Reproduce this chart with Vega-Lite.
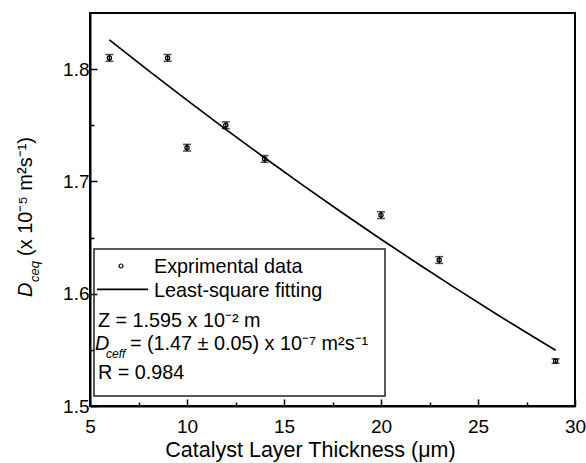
{
  "$schema": "https://vega.github.io/schema/vega-lite/v6.json",
  "width": 485,
  "height": 393,
  "autosize": {"type": "none"},
  "padding": {"left": 90, "top": 13, "right": 11, "bottom": 57},
  "background": "#ffffff",
  "config": {
    "view": {"stroke": "#000000", "strokeWidth": 2},
    "font": "Liberation Sans",
    "text": {"font": "Liberation Sans", "color": "#000000"}
  },
  "datasets": {
    "points": [
      {"thickness": 6, "D": 1.81, "err": 0.003},
      {"thickness": 9, "D": 1.81, "err": 0.003},
      {"thickness": 10, "D": 1.73, "err": 0.003},
      {"thickness": 12, "D": 1.75, "err": 0.003},
      {"thickness": 14, "D": 1.72, "err": 0.003},
      {"thickness": 20, "D": 1.67, "err": 0.003},
      {"thickness": 23, "D": 1.63, "err": 0.003},
      {"thickness": 29, "D": 1.54, "err": 0.002}
    ],
    "fit": [
      {"thickness": 6, "D": 1.826},
      {"thickness": 8, "D": 1.7989},
      {"thickness": 10, "D": 1.7724},
      {"thickness": 12, "D": 1.7464},
      {"thickness": 14, "D": 1.7211},
      {"thickness": 16, "D": 1.6963},
      {"thickness": 18, "D": 1.6721},
      {"thickness": 20, "D": 1.6485},
      {"thickness": 22, "D": 1.6256},
      {"thickness": 24, "D": 1.6032},
      {"thickness": 26, "D": 1.5813},
      {"thickness": 28, "D": 1.5601},
      {"thickness": 29, "D": 1.5497}
    ]
  },
  "layer": [
    {
      "data": {"name": "fit"},
      "mark": {"type": "line", "color": "#000000", "strokeWidth": 1.7},
      "encoding": {
        "x": {
          "field": "thickness", "type": "quantitative",
          "scale": {"domain": [5, 30], "nice": false, "zero": false},
          "axis": {
            "values": [5, 7.5, 10, 12.5, 15, 17.5, 20, 22.5, 25, 27.5, 30],
            "labelExpr": "datum.value % 5 == 0 ? datum.label : ''",
            "tickSize": {"condition": {"test": "datum.value % 5 == 0", "value": -7}, "value": -4},
            "tickWidth": 1.5,
            "tickColor": "#000000",
            "domainColor": "#000000",
            "domainWidth": 2,
            "grid": false,
            "labelFont": "Liberation Sans",
            "labelFontSize": 19,
            "labelColor": "#000000",
            "labelPadding": 18,
            "labelFlush": false,
            "labelOverlap": false,
            "title": "Catalyst Layer Thickness (μm)",
            "titleFont": "Liberation Sans",
            "titleFontSize": 21.5,
            "titleFontWeight": "normal",
            "titleColor": "#000000",
            "titleX": 220,
            "titleY": 50,
            "titleAlign": "center",
            "titleBaseline": "alphabetic"
          }
        },
        "y": {
          "field": "D", "type": "quantitative",
          "scale": {"domain": [1.5, 1.85], "nice": false, "zero": false},
          "axis": {
            "values": [1.5, 1.55, 1.6, 1.65, 1.7, 1.75, 1.8],
            "labelExpr": "abs(datum.value * 10 - round(datum.value * 10)) < 0.001 ? format(datum.value, '.1f') : ''",
            "tickSize": {"condition": {"test": "abs(datum.value * 10 - round(datum.value * 10)) < 0.001", "value": -7}, "value": -4},
            "tickWidth": 1.5,
            "tickColor": "#000000",
            "domainColor": "#000000",
            "domainWidth": 2,
            "grid": false,
            "labelFont": "Liberation Sans",
            "labelFontSize": 19,
            "labelColor": "#000000",
            "labelPadding": 8,
            "labelFlush": false,
            "labelOverlap": false,
            "title": null
          }
        }
      }
    },
    {
      "data": {"name": "points"},
      "mark": {"type": "errorbar", "ticks": {"size": 8, "thickness": 1.5, "color": "#000000"}, "rule": {"strokeWidth": 1.5, "color": "#000000"}},
      "encoding": {
        "x": {"field": "thickness", "type": "quantitative"},
        "y": {"field": "D", "type": "quantitative"},
        "yError": {"field": "err"}
      }
    },
    {
      "data": {"name": "points"},
      "mark": {"type": "point", "shape": "circle", "filled": false, "stroke": "#000000", "strokeWidth": 1.2, "size": 18, "opacity": 1},
      "encoding": {
        "x": {"field": "thickness", "type": "quantitative"},
        "y": {"field": "D", "type": "quantitative"}
      }
    },
    {
      "data": {"values": [{}]},
      "mark": {"type": "rect", "fill": "transparent", "stroke": "#222222", "strokeWidth": 1.5},
      "encoding": {
        "x": {"datum": 5.206}, "x2": {"datum": 20.206},
        "y": {"datum": 1.6398}, "y2": {"datum": 1.5089}
      }
    },
    {
      "data": {"values": [{}]},
      "mark": {"type": "point", "shape": "circle", "filled": false, "stroke": "#000000", "strokeWidth": 1.2, "size": 16, "opacity": 1},
      "encoding": {"x": {"datum": 6.598}, "y": {"datum": 1.6247}}
    },
    {
      "data": {"values": [{}]},
      "mark": {"type": "rule", "color": "#000000", "strokeWidth": 1.7},
      "encoding": {"x": {"datum": 5.361}, "x2": {"datum": 7.99}, "y": {"datum": 1.6039}}
    },
    {
      "data": {"values": [{}]},
      "mark": {"type": "text", "text": "Exprimental data", "align": "left", "baseline": "alphabetic", "fontSize": 19.8},
      "encoding": {"x": {"datum": 8.299}, "y": {"datum": 1.6185}}
    },
    {
      "data": {"values": [{}]},
      "mark": {"type": "text", "text": "Least-square fitting", "align": "left", "baseline": "alphabetic", "fontSize": 19.8},
      "encoding": {"x": {"datum": 8.299}, "y": {"datum": 1.5971}}
    },
    {
      "data": {"values": [{}]},
      "mark": {"type": "text", "text": "Z = 1.595 x 10⁻² m", "align": "left", "baseline": "alphabetic", "fontSize": 19.8},
      "encoding": {"x": {"datum": 5.412}, "y": {"datum": 1.5704}}
    },
    {
      "data": {"values": [{}]},
      "mark": {"type": "text", "text": "D", "align": "left", "baseline": "alphabetic", "fontSize": 19.8, "fontStyle": "italic"},
      "encoding": {"x": {"datum": 5.258}, "y": {"datum": 1.5499}}
    },
    {
      "data": {"values": [{}]},
      "mark": {"type": "text", "text": "ceff", "align": "left", "baseline": "alphabetic", "fontSize": 12, "fontStyle": "italic"},
      "encoding": {"x": {"datum": 5.825}, "y": {"datum": 1.5428}}
    },
    {
      "data": {"values": [{}]},
      "mark": {"type": "text", "text": "= (1.47 ± 0.05) x 10⁻⁷ m²s⁻¹", "align": "left", "baseline": "alphabetic", "fontSize": 19.8},
      "encoding": {"x": {"datum": 7.06}, "y": {"datum": 1.5499}}
    },
    {
      "data": {"values": [{}]},
      "mark": {"type": "text", "text": "R = 0.984", "align": "left", "baseline": "alphabetic", "fontSize": 19.8},
      "encoding": {"x": {"datum": 5.412}, "y": {"datum": 1.5241}}
    },
    {
      "data": {"values": [{}]},
      "mark": {"type": "text", "text": "D", "align": "left", "baseline": "alphabetic", "fontSize": 20, "fontStyle": "italic", "angle": 270},
      "encoding": {"x": {"datum": 2.01}, "y": {"datum": 1.5971}}
    },
    {
      "data": {"values": [{}]},
      "mark": {"type": "text", "text": "ceq", "align": "left", "baseline": "alphabetic", "fontSize": 13, "fontStyle": "italic", "angle": 270},
      "encoding": {"x": {"datum": 2.371}, "y": {"datum": 1.6104}}
    },
    {
      "data": {"values": [{}]},
      "mark": {"type": "text", "text": "(x 10⁻⁵ m²s⁻¹)", "align": "left", "baseline": "alphabetic", "fontSize": 20, "angle": 270},
      "encoding": {"x": {"datum": 2.01}, "y": {"datum": 1.6336}}
    }
  ]
}
